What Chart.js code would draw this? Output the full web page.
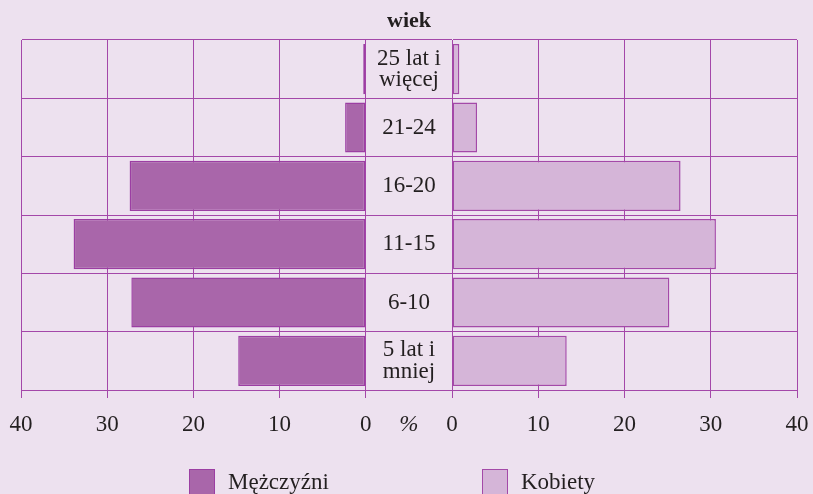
<!DOCTYPE html>
<html><head><meta charset="utf-8">
<script src="https://cdn.jsdelivr.net/npm/chart.js@4/dist/chart.umd.min.js"></script>
<style>
html,body{margin:0;padding:0;background:#ede1ef;}
#wrap{position:relative;width:813px;height:494px;background:#ede1ef;overflow:hidden;font-family:"Liberation Serif",serif;color:#231f20;}
canvas{position:absolute;left:0;top:0;}
#title{position:absolute;left:309px;width:200px;top:7px;text-align:center;font-weight:bold;font-size:22px;line-height:26px;}
.box{position:absolute;top:469px;width:24px;height:24px;border:1.5px solid #9c3ea3;}
.ltxt{position:absolute;top:469px;font-size:23px;line-height:26px;white-space:nowrap;}
</style>
</head><body>
<div id="wrap">
  <canvas id="left" width="813" height="494"></canvas>
  <canvas id="right" width="813" height="494"></canvas>
  <div id="title">wiek</div>
  <div class="box" id="boxM" style="left:189px;"></div><div class="ltxt" id="txtM" style="left:228px;"></div>
  <div class="box" id="boxK" style="left:482px;"></div><div class="ltxt" id="txtK" style="left:521px;"></div>
</div>
<script>
// ---- data ----
const categories = [['25 lat i', 'więcej'], '21-24', '16-20', '11-15', '6-10', ['5 lat i', 'mniej']];
const menValues = [0.3, 2.4, 27.4, 33.9, 27.2, 14.8];
const womenValues = [0.85, 2.9, 26.5, 30.6, 25.2, 13.3];
const seriesNames = ['Mężczyźni', 'Kobiety'];
const unitLabel = '%';

// ---- styles ----
const FAMILY = '"Liberation Serif", serif';
const textColor = '#231f20';
const gridColor = '#a447a9';
const menFill = '#a966aa';
const menBorder = '#9c3ea3';
const womenFill = '#d5b5d8';
const womenBorder = '#a449a8';
const FS = 23;

document.getElementById('txtM').textContent = seriesNames[0];
document.getElementById('txtK').textContent = seriesNames[1];
document.getElementById('boxM').style.background = menFill;
document.getElementById('boxK').style.background = womenFill;
document.getElementById('boxK').style.borderColor = womenBorder;

// measure widest category line to center labels in the middle column
const mctx = document.createElement('canvas').getContext('2d');
mctx.font = FS + 'px ' + FAMILY;
let widest = 0;
categories.forEach(c => [].concat(c).forEach(l => { widest = Math.max(widest, mctx.measureText(l).width); }));
const midWidth = 86;
const midPad = Math.max(0, (midWidth - widest) / 2);

const common = {
  indexAxis: 'y', responsive: false, animation: false, devicePixelRatio: 1,
  plugins: { legend: { display: false }, tooltip: { enabled: false }, title: { display: false } }
};
const fitX = s => { s.height = 60; s.paddingLeft = 0; s.paddingRight = 0; };

new Chart(document.getElementById('left'), {
  type: 'bar',
  data: { labels: categories, datasets: [{ label: seriesNames[0], data: menValues,
    backgroundColor: menFill, borderColor: menBorder, borderWidth: 1.5, borderSkipped: false,
    categoryPercentage: 0.86, barPercentage: 1 }] },
  options: Object.assign({}, common, {
    layout: { padding: { left: 21, right: 361, top: 40, bottom: 44 } },
    scales: {
      x: { type: 'linear', position: 'bottom', min: -10, max: 40, reverse: true,
        ticks: { stepSize: 5, autoSkip: false, maxRotation: 0, padding: 13, color: textColor,
          font: ctx => ({ family: FAMILY, size: FS, style: (ctx.tick && ctx.tick.value === -5) ? 'italic' : 'normal' }),
          callback: v => {
            if (v === -5) return unitLabel;
            if (v < 0) return '';
            return (v % 10 === 0) ? String(v) : null;
          } },
        grid: { color: ctx => (ctx.tick && (ctx.tick.value % 10 !== 0)) ? 'rgba(0,0,0,0)' : gridColor,
          lineWidth: 1, drawTicks: true, tickLength: 8 },
        border: { display: true, color: gridColor, width: 1 },
        afterFit: fitX },
      y: { position: 'left', ticks: { display: false },
        grid: { color: gridColor, lineWidth: 1, drawTicks: false },
        border: { display: true, color: gridColor, width: 1 },
        afterFit: s => { s.width = 0; s.paddingTop = 0; s.paddingBottom = 0; } }
    }
  })
});

new Chart(document.getElementById('right'), {
  type: 'bar',
  data: { labels: categories, datasets: [{ label: seriesNames[1], data: womenValues,
    backgroundColor: womenFill, borderColor: womenBorder, borderWidth: 1.5, borderSkipped: false,
    categoryPercentage: 0.86, barPercentage: 1 }] },
  options: Object.assign({}, common, {
    layout: { padding: { left: 366, right: 16, top: 40, bottom: 44 } },
    scales: {
      x: { type: 'linear', position: 'bottom', min: 0, max: 40,
        ticks: { stepSize: 10, autoSkip: false, maxRotation: 0, padding: 13, color: textColor,
          font: { family: FAMILY, size: FS } },
        grid: { color: gridColor, lineWidth: 1, drawTicks: true, tickLength: 8 },
        border: { display: true, color: gridColor, width: 1 },
        afterFit: fitX },
      y: { position: 'left',
        ticks: { crossAlign: 'center', padding: midPad, color: textColor,
          font: { family: FAMILY, size: FS, lineHeight: 0.93 } },
        grid: { color: gridColor, lineWidth: 1, drawTicks: false },
        border: { display: true, color: gridColor, width: 1 },
        afterFit: s => { s.width = midWidth; s.paddingTop = 0; s.paddingBottom = 0; } }
    }
  })
});
</script>
</body></html>
